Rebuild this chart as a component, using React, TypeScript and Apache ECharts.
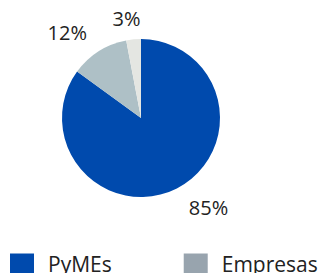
import React, { useEffect, useRef } from "react";
import * as echarts from "echarts";

const categories = ["PyMEs", "Empresas", "Otros"];
const values = [85, 12, 3];
const sliceColors = ["#004AAD", "#AEC0C6", "#E4E6E2"];
const legendColors = ["#004AAD", "#98A4AE", "#E4E6E2"];
const labelShift = [[-3, 0], [10, -7], [14, 1]];

export default function App() {
  const ref = useRef<HTMLDivElement>(null);
  useEffect(() => {
    const chart = echarts.init(ref.current!, null, { renderer: "svg" });
    const font = "'Open Sans', sans-serif";
    chart.setOption({
      animation: false,
      legend: {
        left: 10,
        top: 253,
        padding: 0,
        width: 330,
        itemWidth: 24,
        itemHeight: 20,
        itemGap: 72,
        icon: "rect",
        textStyle: { fontFamily: font, fontSize: 21, color: "#222", padding: [0, 0, 0, 9] },
        data: categories.map((c, i) => ({ name: c, itemStyle: { color: legendColors[i] } })),
      },
      series: [
        {
          type: "pie",
          center: [141, 118],
          radius: 79,
          startAngle: 90,
          clockwise: true,
          data: categories.map((c, i) => ({
            name: c,
            value: values[i],
            itemStyle: { color: sliceColors[i] },
          })),
          label: {
            show: true,
            position: "outside",
            formatter: "{c}%",
            fontFamily: font,
            fontSize: 20,
            color: "#222",
          },
          labelLayout: (p: any) => ({ dx: labelShift[p.dataIndex][0], dy: labelShift[p.dataIndex][1] }),
          labelLine: { show: false, length: 22, length2: 0 },
          emphasis: { disabled: true },
        },
      ],
    });
    return () => chart.dispose();
  }, []);
  return <div ref={ref} style={{ width: 320, height: 273, position: "absolute", left: 0, top: 0 }} />;
}
